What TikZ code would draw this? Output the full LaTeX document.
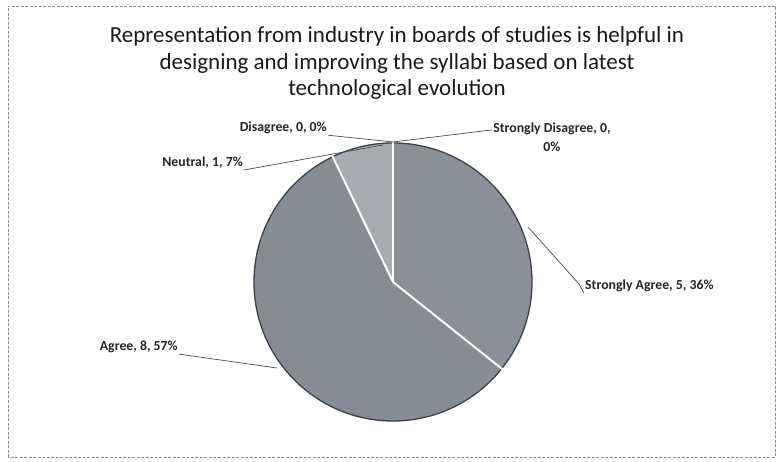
\documentclass[tikz,border=0pt]{standalone}
\usepackage{fontspec}
\setmainfont{Carlito}
\begin{document}
\begin{tikzpicture}[x=1pt,y=1pt,
  frame/.style={draw=black!45, dash pattern=on 3pt off 1.5pt, line width=0.6pt},
  titletext/.style={font=\fontsize{23}{26.5}\selectfont, align=center, text=black!90},
  lbl/.style={font=\bfseries\fontsize{13.8}{19}\selectfont, text=black!85, inner sep=1pt},
  leader/.style={draw=black!70, line width=0.7pt},
  sep/.style={draw=white, line width=2pt}]
\useasboundingbox (0,0) rectangle (777,461);
\draw[frame] (8,4) rectangle (775,455);
% title
\node[titletext] (title) at (397,398) {Representation from industry in boards of studies is helpful in\\designing and improving the syllabi based on latest\\technological evolution};
% pie
\coordinate (c) at (393,179);
\def\R{139}
\fill[fill={rgb,255:red,138;green,143;blue,152}] (c) -- ++(90:\R) arc[start angle=90, end angle=-38.57, radius=\R] -- cycle;
\fill[fill={rgb,255:red,134;green,139;blue,148}] (c) -- ++(-38.57:\R) arc[start angle=-38.57, end angle=-244.29, radius=\R] -- cycle;
\fill[fill={rgb,255:red,168;green,171;blue,177}] (c) -- ++(115.71:\R) arc[start angle=115.71, end angle=90, radius=\R] -- cycle;
\draw[draw={rgb,255:red,60;green,66;blue,76}, line width=1.3pt] (c) circle[radius=\R];
\draw[sep] (c) -- ++(90:\R+1);
\draw[sep] (c) -- ++(-38.57:\R+1);
\draw[sep] (c) -- ++(115.71:\R+1);
% anchor points on the pie
\coordinate (pTop) at (393,319);
\coordinate (pNeu) at (383,316);
\coordinate (pSA) at (528,234);
\coordinate (pSAb) at (579,177);
\coordinate (pAg) at (277,93);
% labels
\node[lbl, anchor=east] (dis) at (328,333) {Disagree, 0, 0\%};
\node[lbl, align=center] (sdis) at (552,323.5) {Strongly Disagree, 0,\\0\%};
\node[lbl, anchor=east] (neu) at (244,298) {Neutral, 1, 7\%};
\node[lbl, anchor=west] (sa) at (584,175) {Strongly Agree, 5, 36\%};
\node[lbl, anchor=east] (ag) at (179,114) {Agree, 8, 57\%};
% leaders
\draw[leader] (dis.south east) -- (pTop);
\draw[leader] (sdis.north west) ++(0,-8) coordinate (sdisL) -- (pTop);
\draw[leader] (neu.south east) -- (pNeu);
\draw[leader] (sa.south west) -- (pSAb) -- (pSA);
\draw[leader] (ag.south east) -- (pAg);
\end{tikzpicture}
\end{document}
